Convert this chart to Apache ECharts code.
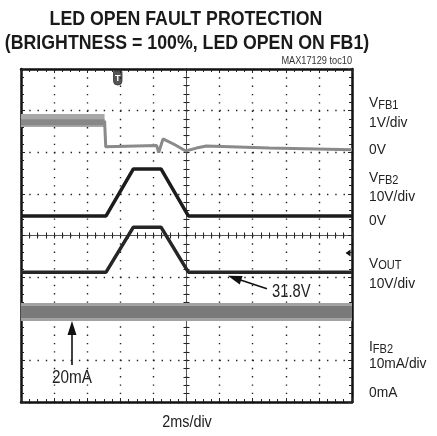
<!DOCTYPE html>
<html>
<head>
<meta charset="utf-8">
<script src="https://cdn.jsdelivr.net/npm/echarts@6/dist/echarts.min.js"></script>
<style>html,body{margin:0;padding:0;background:#fff;}#c{width:437px;height:436px;}</style>
</head>
<body>
<div id="c"></div>
<script>
// ---- data (time in ms, channel values in their own units) ----
const vfb1PreT = [0, 5.05];
const vfb1PreV = [0.76, 0.76];               // V, noisy pre-fault level
const vfb1T = [5.05, 5.12, 8.2, 8.28, 8.32, 8.58, 9.3, 9.95, 10.6, 11.2, 15, 20];
const vfb1V = [0.76, 0.13, 0.16, 0.18, -0.01, 0.32, 0.18, 0.03, 0.1, 0.15, 0.1, 0.06];
const vfb2T = [0, 5.14, 6.79, 8.46, 10.11, 20];
const vfb2V = [0, 0, 11.3, 11.3, 0, 0];       // V
const voutT = [0, 5.14, 6.79, 8.46, 10.11, 20];
const voutV = [31.8, 31.8, 42.6, 42.6, 31.8, 31.8]; // V
const ifb2T = [0, 20];
const ifb2I = [20, 20];                       // mA
// channel settings: zero level (in divisions from bottom), units per division
const CH = {
  vfb1: { zero: 6.0, perDiv: 1 },
  vfb2: { zero: 4.47, perDiv: 10 },
  vout: { zero: -0.06, perDiv: 10 },
  ifb2: { zero: 0.16, perDiv: 10 }
};
const toPts = (ts, vs, ch) => ts.map((t, i) => [t, ch.zero + vs[i] / ch.perDiv]);

const FF = '"Liberation Sans", Arial, sans-serif';
const chart = echarts.init(document.getElementById('c'), null, { renderer: 'canvas' });

const G = { left: 21, top: 69, width: 331, height: 333 };
const frameLine = { show: true, onZero: false, lineStyle: { color: '#111', width: 2.5 } };
const tickIn = { show: true, inside: true, length: 4, lineStyle: { color: '#222', width: 1 } };
const minorIn = (n) => ({ show: true, splitNumber: n, length: 3, lineStyle: { color: '#222', width: 1 } });
const centerLine = { show: true, onZero: true, lineStyle: { color: '#555', width: 1 } };
const centerTick = { show: true, inside: true, length: 3, lineStyle: { color: '#222' } };
const centerMinor = (n) => ({ show: true, splitNumber: n, length: 3, lineStyle: { color: '#222' } });

const ifb2Pts = toPts(ifb2T, ifb2I, CH.ifb2);
const vfb1Pts = toPts(vfb1T, vfb1V, CH.vfb1);
const vfb1PrePts = toPts(vfb1PreT, vfb1PreV, CH.vfb1);

function label(x, y, text, size, sx, extra) {
  return Object.assign({ type: 'text', x: x, y: y, scaleX: sx,
    style: { text: text, font: size + 'px ' + FF, fill: '#222', align: 'left', verticalAlign: 'middle' } }, extra || {});
}
function subLabel(x, y, main, sub, pad) {
  return { type: 'text', x: x, y: y, scaleX: 0.92,
    style: { rich: { v: { font: '15px ' + FF, fill: '#222' },
                     s: { font: '12px ' + FF, fill: '#222', padding: [pad, 0, 0, 0] } },
             text: '{v|' + main + '}{s|' + sub + '}', verticalAlign: 'middle' } };
}

const option = {
  animation: false,
  backgroundColor: '#fff',
  grid: [
    Object.assign({ show: false }, G),
    Object.assign({ show: false }, G)
  ],
  xAxis: [
    { gridIndex: 0, type: 'value', min: 0, max: 20, interval: 2, position: 'bottom',
      axisLine: frameLine, axisTick: tickIn, minorTick: minorIn(4), axisLabel: { show: false },
      splitLine: { show: true, lineStyle: { color: '#222', width: 1.4, type: [1.4, 6.9] } } },
    { gridIndex: 0, type: 'value', min: 0, max: 20, interval: 2, position: 'top',
      axisLine: frameLine, axisTick: tickIn, minorTick: minorIn(4), axisLabel: { show: false },
      splitLine: { show: false } },
    { gridIndex: 1, type: 'value', min: -5, max: 5, interval: 1, position: 'bottom',
      axisLine: centerLine, axisTick: centerTick, minorTick: centerMinor(4),
      axisLabel: { show: false }, splitLine: { show: false } },
    { gridIndex: 1, type: 'value', min: -5, max: 5, interval: 1, position: 'top',
      axisLine: centerLine, axisTick: centerTick, minorTick: centerMinor(4),
      axisLabel: { show: false }, splitLine: { show: false } }
  ],
  yAxis: [
    { gridIndex: 0, type: 'value', min: 0, max: 8, interval: 1, position: 'left',
      axisLine: frameLine, axisTick: tickIn, minorTick: minorIn(5), axisLabel: { show: false },
      splitLine: { show: true, lineStyle: { color: '#222', width: 1.4, type: [1.4, 6.87] } } },
    { gridIndex: 0, type: 'value', min: 0, max: 8, interval: 1, position: 'right',
      axisLine: frameLine, axisTick: tickIn, minorTick: minorIn(5), axisLabel: { show: false },
      splitLine: { show: false } },
    { gridIndex: 1, type: 'value', min: -4, max: 4, interval: 1, position: 'left',
      axisLine: centerLine, axisTick: centerTick, minorTick: centerMinor(5),
      axisLabel: { show: false }, splitLine: { show: false } },
    { gridIndex: 1, type: 'value', min: -4, max: 4, interval: 1, position: 'right',
      axisLine: centerLine, axisTick: centerTick, minorTick: centerMinor(5),
      axisLabel: { show: false }, splitLine: { show: false } }
  ],
  series: [
    // IFB2 noise band
    { type: 'line', xAxisIndex: 0, yAxisIndex: 0, data: ifb2Pts, symbol: 'none', silent: true,
      lineStyle: { color: '#a2a2a2', width: 18, cap: 'butt' } },
    { type: 'line', xAxisIndex: 0, yAxisIndex: 0, data: ifb2Pts, symbol: 'none', silent: true,
      lineStyle: { color: '#7a7a7a', width: 12, cap: 'butt' },
      markLine: { silent: true, symbol: ['none', 'triangle'], symbolSize: [9, 14],
        lineStyle: { color: '#111', width: 1.6, type: 'solid' }, label: { show: false },
        data: [[{ coord: [3.08, 0.89] }, { coord: [3.08, 1.78] }]] } },
    // VFB1 noisy pre-fault band
    { type: 'line', xAxisIndex: 0, yAxisIndex: 0, data: vfb1PrePts, symbol: 'none',
      lineStyle: { color: '#a8a8a8', width: 13, cap: 'butt' } },
    { type: 'line', xAxisIndex: 0, yAxisIndex: 0, data: vfb1PrePts.map(p => [p[0], p[1] - 0.04]), symbol: 'none',
      lineStyle: { color: '#888888', width: 6, cap: 'butt' } },
    // VFB1 trace
    { type: 'line', xAxisIndex: 0, yAxisIndex: 0, data: vfb1Pts, symbol: 'none',
      lineStyle: { color: '#8a8a8a', width: 3 } },
    // VFB2
    { type: 'line', xAxisIndex: 0, yAxisIndex: 0, data: toPts(vfb2T, vfb2V, CH.vfb2), symbol: 'none',
      lineStyle: { color: '#1c1c1c', width: 3.5 } },
    // VOUT
    { type: 'line', xAxisIndex: 0, yAxisIndex: 0, data: toPts(voutT, voutV, CH.vout), symbol: 'none',
      lineStyle: { color: '#262626', width: 3.5 },
      markLine: { silent: true, symbol: ['none', 'triangle'], symbolSize: [9, 14],
        lineStyle: { color: '#111', width: 1.6, type: 'solid' }, label: { show: false },
        data: [[{ coord: [14.86, 2.72] }, { coord: [12.9, 2.98] }]] } }
  ],
  graphic: [
    { type: 'text', x: 186, y: 19.5, scaleX: 0.845, style: { text: 'LED OPEN FAULT PROTECTION', font: 'bold 21px ' + FF, fill: '#1a1a1a', align: 'center', verticalAlign: 'middle' } },
    { type: 'text', x: 187, y: 43, scaleX: 0.845, style: { text: '(BRIGHTNESS = 100%, LED OPEN ON FB1)', font: 'bold 21px ' + FF, fill: '#1a1a1a', align: 'center', verticalAlign: 'middle' } },
    { type: 'text', x: 352, y: 61, scaleX: 0.92, style: { text: 'MAX17129 toc10', font: '10px ' + FF, fill: '#333', align: 'right', verticalAlign: 'middle' } },
    // trigger marker
    { type: 'rect', shape: { x: 113.5, y: 71, width: 8.5, height: 14, r: [1, 1, 4, 4] }, style: { fill: '#555', stroke: '#333', lineWidth: 0.8 } },
    { type: 'text', x: 117.8, y: 78.5, style: { text: 'T', font: 'bold 9px ' + FF, fill: '#fff', align: 'center', verticalAlign: 'middle' } },
    // right side level marker
    { type: 'polygon', shape: { points: [[345.5, 253], [350.5, 249.5], [350.5, 256.5]] }, style: { fill: '#111' } },
    // annotations
    { type: 'text', x: 72, y: 378, scaleX: 0.85, style: { text: '20mA', font: '18px ' + FF, fill: '#222', align: 'center', verticalAlign: 'middle' } },
    label(272, 292, '31.8V', 18, 0.82),
    { type: 'text', x: 187, y: 423, scaleX: 0.9, style: { text: '2ms/div', font: '16px ' + FF, fill: '#222', align: 'center', verticalAlign: 'middle' } },
    // right channel labels
    subLabel(369, 103, 'V', 'FB1', 6),
    label(369, 123, '1V/div', 15, 0.92),
    label(369, 150, '0V', 15, 0.92),
    subLabel(369, 178, 'V', 'FB2', 6),
    label(369, 197, '10V/div', 15, 0.92),
    label(369, 221, '0V', 15, 0.92),
    subLabel(369, 264, 'V', 'OUT', 3),
    label(369, 284, '10V/div', 15, 0.92),
    subLabel(369, 347, 'I', 'FB2', 6),
    label(369, 364, '10mA/div', 15, 0.92),
    label(369, 393, '0mA', 15, 0.92)
  ]
};
chart.setOption(option);
</script>
</body>
</html>
